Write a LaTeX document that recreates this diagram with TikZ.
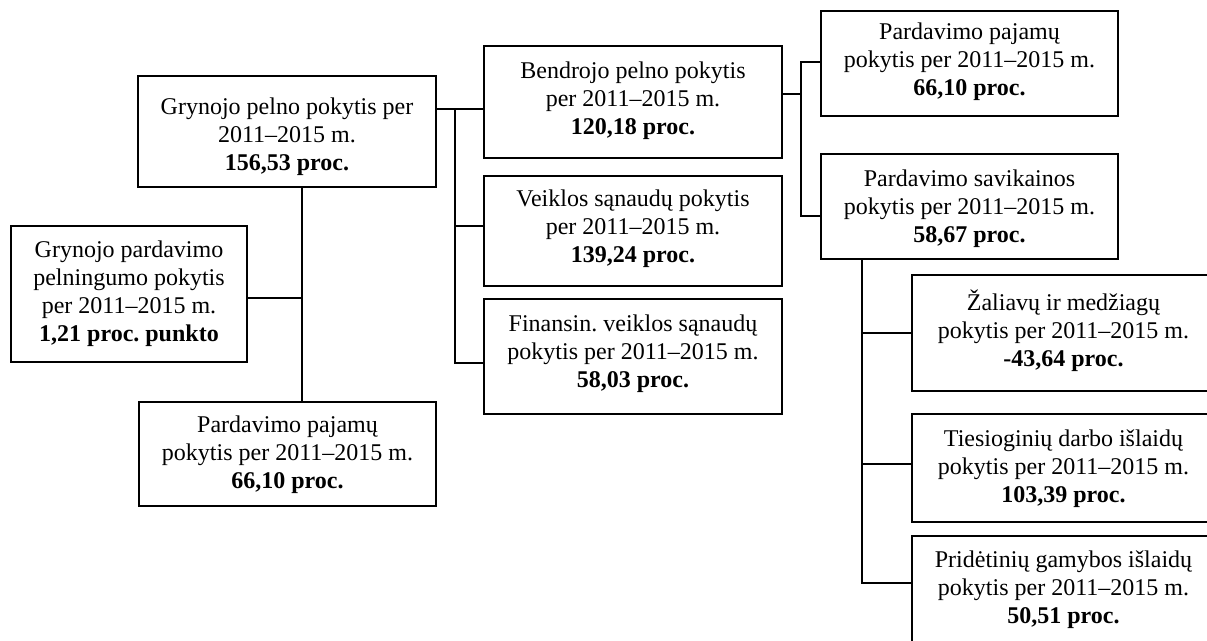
\documentclass[tikz,border=0pt]{standalone}
\usepackage{fontspec}
\setmainfont{Liberation Serif}
\usetikzlibrary{fit,calc}
\frenchspacing
\tikzset{
  box/.style={draw=black, line width=1pt, inner sep=0pt, fill=white},
  txt/.style={inner sep=0pt, anchor=base, font=\fontsize{12}{14}\selectfont},
  conn/.style={draw=black, line width=1pt},
}
\newcommand{\tl}[3]{\begin{tabular}[t]{@{}c@{}}#1\\#2\\\textbf{#3}\end{tabular}}
\newcommand{\tll}[4]{\begin{tabular}[t]{@{}c@{}}#1\\#2\\#3\\\textbf{#4}\end{tabular}}
\begin{document}
\begin{tikzpicture}[x=0.5pt,y=-0.5pt]
\path[use as bounding box, clip] (0,0) rectangle (1207,641);
\fill[white] (0,0) rectangle (1207,641);
% boxes
\node[box, fit={(138,76) (436,187)}] (A) {};
\node[box, fit={(11,226) (247,362)}] (C) {};
\node[box, fit={(139,402) (436,506)}] (D) {};
\node[box, fit={(484,46) (782,158)}] (B1) {};
\node[box, fit={(484,176) (782,286)}] (B2) {};
\node[box, fit={(484,299) (782,414)}] (B3) {};
\node[box, fit={(821,11) (1118,116)}] (R1) {};
\node[box, fit={(821,154) (1118,259)}] (R2) {};
\node[box, fit={(912,275) (1215,391)}] (S1) {};
\node[box, fit={(912,414) (1215,522)}] (S2) {};
\node[box, fit={(912,536) (1215,660)}] (S3) {};
% texts
\node[txt] (At) at ($(A.north)+(0,40)$) {\tl{Grynojo pelno pokytis per}{2011–2015 m.}{156,53 proc.}};
\node[txt] (Ct) at ($(C.north)+(0,33)$) {\tll{Grynojo pardavimo}{pelningumo pokytis}{per 2011–2015 m.}{1,21 proc. punkto}};
\node[txt] (Dt) at ($(D.north)+(0,32)$) {\tl{Pardavimo pajamų}{pokytis per 2011–2015 m.}{66,10 proc.}};
\node[txt] (B1t) at ($(B1.north)+(0,34)$) {\tl{Bendrojo pelno pokytis}{per 2011–2015 m.}{120,18 proc.}};
\node[txt] (B2t) at ($(B2.north)+(0,32)$) {\tl{Veiklos sąnaudų pokytis}{per 2011–2015 m.}{139,24 proc.}};
\node[txt] (B3t) at ($(B3.north)+(0,34)$) {\tl{Finansin. veiklos sąnaudų}{pokytis per 2011–2015 m.}{58,03 proc.}};
\node[txt] (R1t) at ($(R1.north)+(0,30)$) {\tl{Pardavimo pajamų}{pokytis per 2011–2015 m.}{66,10 proc.}};
\node[txt] (R2t) at ($(R2.north)+(0,34)$) {\tl{Pardavimo savikainos}{pokytis per 2011–2015 m.}{58,67 proc.}};
\node[txt] (S1t) at ($(S1.north)+(0,37)$) {\tl{Žaliavų ir medžiagų}{pokytis per 2011–2015 m.}{-43,64 proc.}};
\node[txt] (S2t) at ($(S2.north)+(0,34)$) {\tl{Tiesioginių darbo išlaidų}{pokytis per 2011–2015 m.}{103,39 proc.}};
\node[txt] (S3t) at ($(S3.north)+(0,33)$) {\tl{Pridėtinių gamybos išlaidų}{pokytis per 2011–2015 m.}{50,51 proc.}};
% connector coordinates
\coordinate (j1) at (455,109);
\coordinate (j2) at (801,94);
\coordinate (j3) at (862,259);
% A -> B1, B2, B3
\draw[conn] (A.east |- j1) -- (B1.west |- j1);
\draw[conn] (j1) -- (j1 |- 0,363) -- (B3.west |- 0,363);
\draw[conn] (j1 |- 0,226) -- (B2.west |- 0,226);
% A -> D, C
\draw[conn] (302,187) coordinate (ab) -- (ab |- D.north);
\draw[conn] (C.east |- 0,298) -- (302,298);
% B1 -> R1, R2
\draw[conn] (B1.east |- j2) -- (j2);
\draw[conn] (R1.west |- 0,62) -- (801,62) -- (801,216) -- (R2.west |- 0,216);
% R2 -> S1, S2, S3
\draw[conn] (j3) -- (862,583) -- (S3.west |- 0,583);
\draw[conn] (862,333) -- (S1.west |- 0,333);
\draw[conn] (862,464) -- (S2.west |- 0,464);
\end{tikzpicture}
\end{document}
